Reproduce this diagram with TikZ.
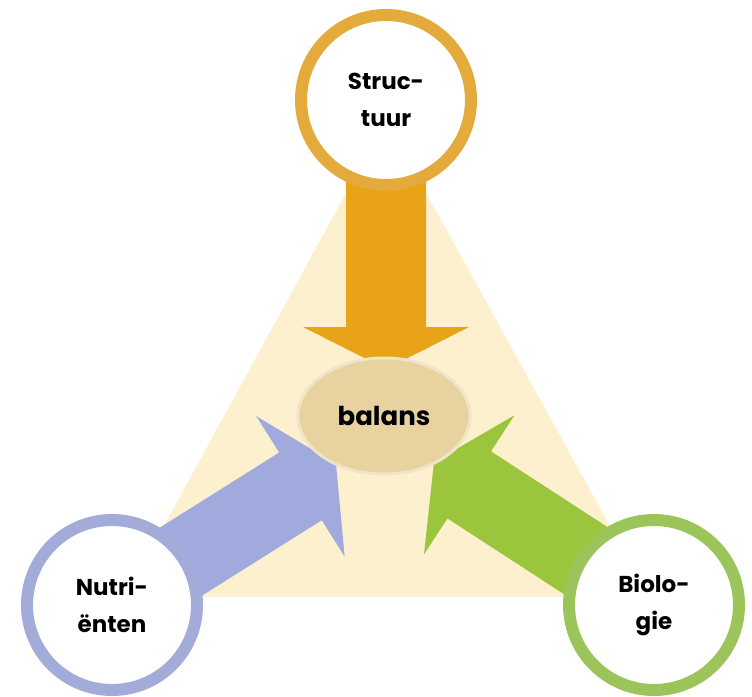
\documentclass[tikz,border=0pt]{standalone}
\usepackage{fontspec}
\setmainfont{Poppins}
\usepackage{tikz}
\usetikzlibrary{calc,shapes.geometric,positioning,backgrounds}
\definecolor{plaat}{RGB}{253,240,206}
\definecolor{oranje}{RGB}{229,170,60}
\definecolor{oranjepijl}{RGB}{232,163,24}
\definecolor{blauw}{RGB}{163,172,216}
\definecolor{blauwpijl}{RGB}{160,170,220}
\definecolor{groen}{RGB}{155,196,90}
\definecolor{groenpijl}{RGB}{155,197,61}
\definecolor{kern}{RGB}{232,210,160}
\definecolor{kernrand}{RGB}{240,228,200}
\tikzset{
  factor/.style={circle, draw, fill=white, line width=12pt, minimum size=170pt,
  align=center, text centered, font=\fontsize{23}{37}\selectfont\bfseries},
  kern/.style={ellipse, draw=kernrand, fill=kern, line width=3pt, minimum 
  width=172pt, minimum height=116pt, font=\fontsize{26}{30}\selectfont\bfseries}
}
% block arrow from circle #1 to tip #2 in colour #3
\newcommand{\blokpijl}[3]{%
  \coordinate (H) at ($(#2)!42pt!(#1.center)$);
  \fill[#3] ($(#1.center)!40pt!-90:(#2)$) -- ($(H)!40pt!-90:(#2)$) 
  -- ($(H)!83pt!-90:(#2)$) -- (#2) -- ($(H)!83pt!90:(#2)$) 
  -- ($(H)!40pt!90:(#2)$) -- ($(#1.center)!40pt!90:(#2)$) -- cycle;
}

\begin{document}
\begin{tikzpicture}[x=1pt,y=-1pt]
			\useasboundingbox (0,0) rectangle (752,696);
			\node (S) [factor,draw=oranje] at (386,100) {Struc-\\tuur};
			\node (N) [factor,draw=blauw] at (112,605) {Nutri-\\ënten};
			\node (B) [factor,draw=groen] at (654,605) {Biolo-\\gie};
			\node (M) [kern] at (384,416) {balans};
			\coordinate (TS) at (386,369);
			\coordinate (TN) at (336,464);
			\coordinate (TB) at (434,462);
			\begin{scope}[on background layer]
			\fill[plaat] (386,120) -- (125,597) -- (649,597) -- cycle;
			\blokpijl{S}{TS}{oranjepijl}
			\blokpijl{N}{TN}{blauwpijl}
			\blokpijl{B}{TB}{groenpijl}
			\end{scope}
			\end{tikzpicture}
\end{document}
